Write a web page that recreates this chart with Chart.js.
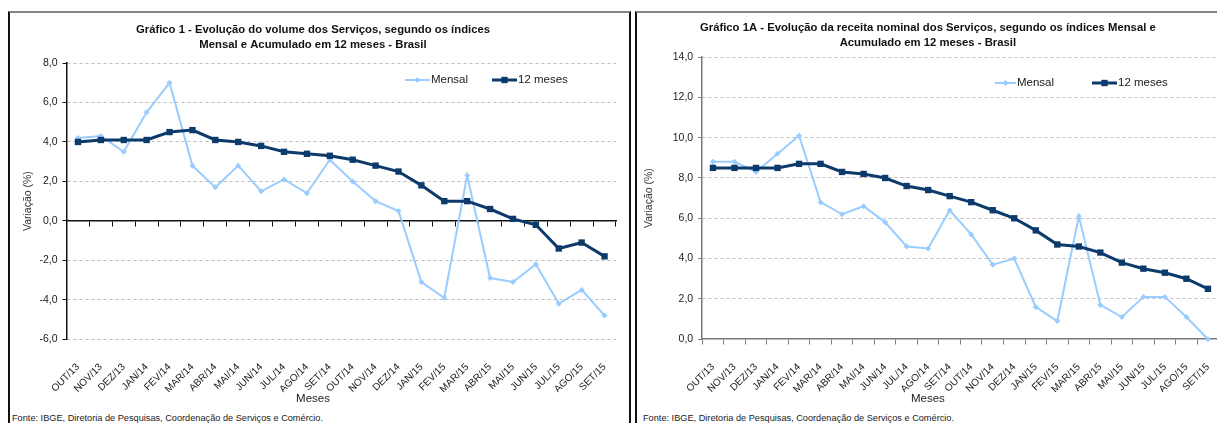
<!DOCTYPE html>
<html>
<head>
<meta charset="utf-8">
<script src="https://cdn.jsdelivr.net/npm/chart.js@4.4.0/dist/chart.umd.min.js"></script>
<style>
  html, body { margin: 0; padding: 0; background: #fff; overflow: hidden; width: 1217px; height: 423px; }
  .painel { position: absolute; top: 11px; height: 480px; border-top: 2px solid #858585; border-left: 2px solid #111; }
  #p1 { left: 8px; width: 619px; border-right: 2px solid #111; }
  #p2 { left: 635px; width: 600px; }
  canvas { position: absolute; left: 0; top: 0; }
  .fonte { position: absolute; top: 400px; font: 9.2px 'Liberation Sans', Arial, sans-serif; color: #222; white-space: nowrap; }
</style>
</head>
<body>
<div class="painel" id="p1">
  <canvas id="grafico1" width="619" height="398"></canvas>
  <div class="fonte" style="left:2px">Fonte: IBGE, Diretoria de Pesquisas, Coordenação de Serviços e Comércio.</div>
</div>
<div class="painel" id="p2">
  <canvas id="grafico1a" width="596" height="398"></canvas>
  <div class="fonte" style="left:6px">Fonte: IBGE, Diretoria de Pesquisas, Coordenação de Serviços e Comércio.</div>
</div>
<script>
var meses = ['OUT/13', 'NOV/13', 'DEZ/13', 'JAN/14', 'FEV/14', 'MAR/14', 'ABR/14', 'MAI/14', 'JUN/14', 'JUL/14', 'AGO/14', 'SET/14',
  'OUT/14', 'NOV/14', 'DEZ/14', 'JAN/15', 'FEV/15', 'MAR/15', 'ABR/15', 'MAI/15', 'JUN/15', 'JUL/15', 'AGO/15', 'SET/15'];

// Grafico 1 - volume
var volumeMensal = [4.2, 4.3, 3.5, 5.5, 7.0, 2.8, 1.7, 2.8, 1.5, 2.1, 1.4, 3.1, 2.0, 1.0, 0.5, -3.1, -3.9, 2.3, -2.9, -3.1, -2.2, -4.2, -3.5, -4.8];
var volume12m = [4.0, 4.1, 4.1, 4.1, 4.5, 4.6, 4.1, 4.0, 3.8, 3.5, 3.4, 3.3, 3.1, 2.8, 2.5, 1.8, 1.0, 1.0, 0.6, 0.1, -0.2, -1.4, -1.1, -1.8];

// Grafico 1A - receita nominal
var receitaMensal = [8.8, 8.8, 8.3, 9.2, 10.1, 6.8, 6.2, 6.6, 5.8, 4.6, 4.5, 6.4, 5.2, 3.7, 4.0, 1.6, 0.9, 6.1, 1.7, 1.1, 2.1, 2.1, 1.1, 0.0];
var receita12m = [8.5, 8.5, 8.5, 8.5, 8.7, 8.7, 8.3, 8.2, 8.0, 7.6, 7.4, 7.1, 6.8, 6.4, 6.0, 5.4, 4.7, 4.6, 4.3, 3.8, 3.5, 3.3, 3.0, 2.5];

var titulo1 = ['Gráfico 1 - Evolução do volume dos Serviços, segundo os índices', 'Mensal e Acumulado em 12 meses - Brasil'];
var titulo1a = ['Gráfico 1A - Evolução da receita nominal dos Serviços, segundo os índices Mensal e', 'Acumulado em 12 meses - Brasil'];

var FONTE = "'Liberation Sans', Arial, sans-serif";
var azulClaro = '#99ccff';
var azulEscuro = '#0b3a6b';

// legend drawn inside the plot, like the original
var legendaInterna = {
  id: 'legendaInterna',
  afterDraw: function (chart, args, opts) {
    var ctx = chart.ctx;
    ctx.save();
    chart.data.datasets.forEach(function (ds, i) {
      var it = opts.itens[i];
      var y = opts.y;
      ctx.strokeStyle = ds.borderColor;
      ctx.lineWidth = ds.borderWidth;
      ctx.beginPath();
      ctx.moveTo(it.x, y);
      ctx.lineTo(it.x + it.w, y);
      ctx.stroke();
      var cx = it.x + it.w / 2;
      var r = ds.pointRadius;
      ctx.fillStyle = ds.pointBackgroundColor;
      ctx.beginPath();
      if (ds.pointStyle === 'rectRot') {
        ctx.moveTo(cx, y - r); ctx.lineTo(cx + r, y); ctx.lineTo(cx, y + r); ctx.lineTo(cx - r, y);
        ctx.closePath();
      } else {
        var s = r * Math.SQRT1_2;
        ctx.rect(cx - s, y - s, 2 * s, 2 * s);
      }
      ctx.fill();
      ctx.fillStyle = '#1a1a1a';
      ctx.font = opts.font;
      ctx.textBaseline = 'middle';
      ctx.textAlign = 'left';
      ctx.fillText(ds.label, it.x + it.w + 1, y);
    });
    ctx.restore();
  }
};

function fmt(v) {
  return v.toFixed(1).replace('.', ',');
}

function novoGrafico(id, cfg) {
  new Chart(document.getElementById(id), {
    type: 'line',
    data: {
      labels: meses,
      datasets: [
        {
          label: 'Mensal',
          data: cfg.mensal,
          borderColor: azulClaro,
          backgroundColor: azulClaro,
          pointBackgroundColor: azulClaro,
          borderWidth: 2,
          pointStyle: 'rectRot',
          pointRadius: 3,
          pointBorderWidth: 0,
          tension: 0,
          clip: false,
          order: 2
        },
        {
          label: '12 meses',
          data: cfg.acum,
          borderColor: azulEscuro,
          backgroundColor: azulEscuro,
          pointBackgroundColor: azulEscuro,
          borderWidth: 3,
          pointStyle: 'rect',
          pointRadius: 4.5,
          pointBorderWidth: 0,
          tension: 0,
          clip: false,
          order: 1
        }
      ]
    },
    plugins: [legendaInterna],
    options: {
      responsive: false,
      animation: false,
      devicePixelRatio: 1,
      layout: { padding: { left: 0, right: cfg.padRight, top: 0, bottom: 0 } },
      plugins: {
        legend: { display: false },
        tooltip: { enabled: false },
        title: {
          display: true,
          text: cfg.titulo,
          color: '#111',
          font: { family: FONTE, size: 11.3, weight: 'bold', lineHeight: 1.33 },
          padding: { top: cfg.tituloTop, bottom: cfg.tituloBottom }
        },
        subtitle: {
          display: true,
          position: 'bottom',
          text: 'Meses',
          color: '#222',
          font: { family: FONTE, size: 11.5, lineHeight: 1.2 },
          padding: { top: 0, bottom: 5 }
        },
        legendaInterna: { y: cfg.legY, itens: cfg.legItens, font: '11.5px ' + FONTE }
      },
      scales: {
        x: {
          type: 'category',
          position: 'bottom',
          offset: true,
          grid: { display: false },
          border: { display: false },
          ticks: {
            autoSkip: false, maxRotation: 45, minRotation: 45, padding: 14,
            color: '#1a1a1a', font: { family: FONTE, size: 10 }
          },
          afterFit: function (s) { s.height = cfg.alturaX; }
        },
        x0: {
          type: 'category',
          position: { y: 0 },
          offset: true,
          grid: { display: true, drawOnChartArea: false, drawTicks: true, tickLength: 5, offset: true, color: cfg.corEixo, lineWidth: 1 },
          border: { display: true, color: cfg.corEixo, width: 1.5 },
          ticks: { display: false }
        },
        y: {
          min: cfg.min,
          max: cfg.max,
          ticks: {
            stepSize: 2, padding: 5, color: '#1a1a1a',
            font: { family: FONTE, size: 10.5 },
            callback: function (v) { return fmt(v); }
          },
          grid: {
            color: function (c) { return c.tick && c.tick.value === 0 ? 'rgba(0,0,0,0)' : '#bdbdbd'; },
            tickColor: cfg.corEixo,
            tickLength: 4,
            lineWidth: 1
          },
          border: { display: true, color: cfg.corEixo, width: 1.5, dash: [3, 3] },
          title: {
            display: true, text: 'Variação (%)', color: '#333',
            font: { family: FONTE, size: 10.5 }, padding: { top: cfg.yTitlePad, bottom: 0 }
          },
          afterFit: function (s) { s.width = cfg.larguraY; }
        }
      }
    }
  });
}

novoGrafico('grafico1', {
  mensal: volumeMensal, acum: volume12m, titulo: titulo1,
  min: -6, max: 8, padRight: 13, larguraY: 56.5, alturaX: 53,
  tituloTop: 9, tituloBottom: 11, yTitlePad: 12,
  corEixo: '#111',
  legY: 67, legItens: [{ x: 395, w: 25 }, { x: 482, w: 25 }]
});

novoGrafico('grafico1a', {
  mensal: receitaMensal, acum: receita12m, titulo: titulo1a,
  min: 0, max: 14, padRight: 14.3, larguraY: 65.2, alturaX: 53,
  tituloTop: 7, tituloBottom: 7, yTitlePad: 6,
  corEixo: '#7a7a7a',
  legY: 70, legItens: [{ x: 358, w: 21 }, { x: 455, w: 25 }]
});
</script>
</body>
</html>
